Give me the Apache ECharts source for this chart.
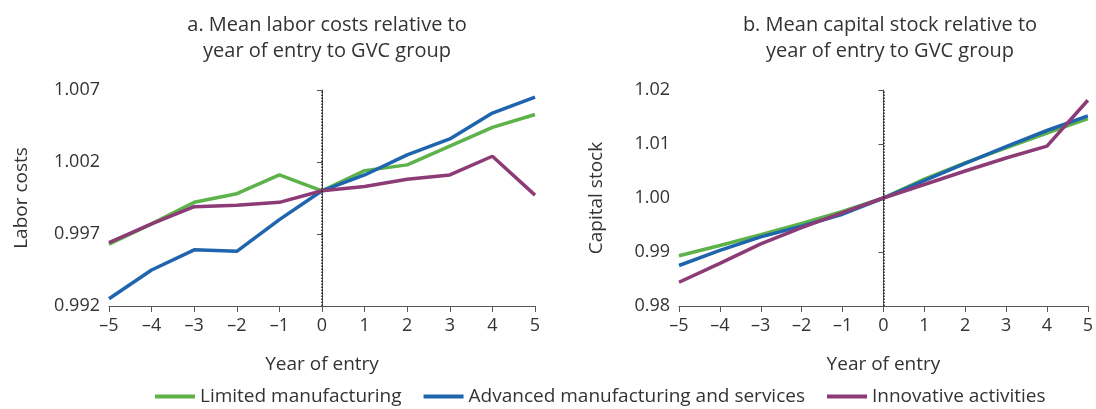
<!DOCTYPE html>
<html><head><meta charset="utf-8">
<script src="https://cdn.jsdelivr.net/npm/echarts@6/dist/echarts.min.js"></script>
<style>html,body{margin:0;padding:0;background:#fff}#c{width:1096px;height:409px}</style>
</head><body><div id="c"></div>
<script>
const years = [-5,-4,-3,-2,-1,0,1,2,3,4,5];
const seriesNames = ['Limited manufacturing','Advanced manufacturing and services','Innovative activities'];
const laborLimited  = [0.9963,0.9977,0.9992,0.9998,1.0011,1.0000,1.0014,1.0018,1.0031,1.0044,1.0053];
const laborAdvanced = [0.9925,0.9945,0.9959,0.9958,0.9980,1.0000,1.0011,1.0025,1.0036,1.0054,1.0065];
const laborInnov    = [0.9964,0.9977,0.9989,0.9990,0.9992,1.0000,1.0003,1.0008,1.0011,1.0024,0.9997];
const capLimited  = [0.9893,0.9912,0.9932,0.9953,0.9975,1.0000,1.0035,1.0065,1.0093,1.0120,1.0147];
const capAdvanced = [0.9875,0.9903,0.9928,0.9948,0.9970,1.0000,1.0032,1.0064,1.0095,1.0125,1.0152];
const capInnov    = [0.9844,0.9879,0.9915,0.9945,0.9973,1.0000,1.0025,1.0050,1.0074,1.0096,1.0181];
const laborTicks = [0.992,0.997,1.002,1.007];
const capTicks = [0.98,0.99,1.00,1.01,1.02];
const colors = ['#5db249','#1e65ae','#8c3b76'];
const FONT = 'Open Sans';
const txt = '#333';

function pts(arr){ return years.map((y,i)=>[y,arr[i]]); }
function xAxis(gi){
  return {type:'value',gridIndex:gi,min:-5,max:5,interval:1,
    name:'Year of entry',nameLocation:'middle',nameGap:49,
    nameTextStyle:{fontFamily:FONT,fontSize:19,color:txt},
    axisLine:{lineStyle:{color:'#555',width:1}},
    axisTick:{show:true,length:6,lineStyle:{color:'#555'}},
    axisLabel:{fontFamily:FONT,fontSize:18,color:txt,margin:11,
      formatter:v=>String(v).replace('-','\u2013')},
    splitLine:{show:false}};
}
function yAxis(gi,ticks,dec,name){
  return {type:'value',gridIndex:gi,min:ticks[0],max:ticks[ticks.length-1],
    interval:+(ticks[1]-ticks[0]).toFixed(4),
    name:name,nameLocation:'middle',nameGap:dec===3?78:73,
    nameTextStyle:{fontFamily:FONT,fontSize:19,color:txt},
    axisLine:{show:true,lineStyle:{color:'#555',width:1}},
    axisTick:{show:true,length:5,lineStyle:{color:'#555'}},
    axisLabel:{fontFamily:FONT,fontSize:18,color:txt,margin:9,formatter:v=>v.toFixed(dec)},
    splitLine:{show:false}};
}
function line(name,data,gi,ci,mark){
  const s={name:name,type:'line',xAxisIndex:gi,yAxisIndex:gi,data:pts(data),
    symbol:'none',lineStyle:{width:3.5,color:colors[ci]},itemStyle:{color:colors[ci]},z:3};
  if(mark){ s.markLine={silent:true,symbol:'none',label:{show:false},
    lineStyle:{type:'dotted',color:'#222',width:1.5},data:[{xAxis:0}]}; }
  return s;
}
const chart = echarts.init(document.getElementById('c'));
chart.setOption({
  animation:false,
  title:[
    {text:'a. Mean labor costs relative to\nyear of entry to GVC group',left:322,top:7,textAlign:'center',
     textStyle:{fontFamily:FONT,fontSize:20,fontWeight:'normal',color:txt,lineHeight:26}},
    {text:'b. Mean capital stock relative to\nyear of entry to GVC group',left:885,top:7,textAlign:'center',
     textStyle:{fontFamily:FONT,fontSize:20,fontWeight:'normal',color:txt,lineHeight:26}}
  ],
  legend:{bottom:-2,left:150,itemWidth:40,itemHeight:4,itemGap:22,icon:'rect',
    textStyle:{fontFamily:FONT,fontSize:19,color:txt},data:seriesNames},
  grid:[
    {left:109,right:561,top:90,bottom:103},
    {left:679,right:5,top:90,bottom:103}
  ],
  xAxis:[xAxis(0),xAxis(1)],
  yAxis:[yAxis(0,laborTicks,3,'Labor costs'),yAxis(1,capTicks,2,'Capital stock')],
  series:[
    line(seriesNames[0],laborLimited,0,0,true),
    line(seriesNames[1],laborAdvanced,0,1),
    line(seriesNames[2],laborInnov,0,2),
    line(seriesNames[0],capLimited,1,0,true),
    line(seriesNames[1],capAdvanced,1,1),
    line(seriesNames[2],capInnov,1,2)
  ]
});
</script></body></html>
